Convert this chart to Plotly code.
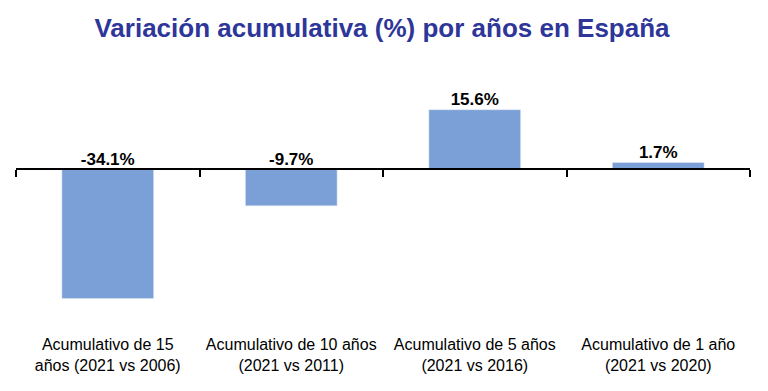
import plotly.graph_objects as go

categories = [
    "Acumulativo de 15<br>años (2021 vs 2006)",
    "Acumulativo de 10 años<br>(2021 vs 2011)",
    "Acumulativo de 5 años<br>(2021 vs 2016)",
    "Acumulativo de 1 año<br>(2021 vs 2020)",
]
values = [-34.1, -9.7, 15.6, 1.7]
value_labels = ["-34.1%", "-9.7%", "15.6%", "1.7%"]
title_text = "Variación acumulativa (%) por años en España"

FONT = "Arial, Liberation Sans, sans-serif"
BAR_COLOR = "#7b9fd7"
y_min, y_max = -40, 20
OFF = 8  # page body margin in the browser

xs = list(range(len(categories)))
boundaries = [i - 0.5 for i in range(len(categories) + 1)]

fig = go.Figure()
fig.add_trace(go.Bar(x=xs, y=values, marker_color=BAR_COLOR, width=0.5,
                     hoverinfo="skip"))
fig.add_trace(go.Scatter(x=xs, y=[max(v, 0) for v in values], mode="text",
                         text=[f"<b>{t}</b>" for t in value_labels],
                         textposition="top center",
                         textfont=dict(family=FONT, size=17, color="black"),
                         hoverinfo="skip", xaxis="x2"))

zero_pos = (0 - y_min) / (y_max - y_min)

fig.update_layout(
    width=768, height=391,
    margin=dict(l=16 - OFF, r=18 + OFF, t=93 - OFF, b=70 + OFF),
    paper_bgcolor="white", plot_bgcolor="white",
    showlegend=False,
    title=dict(text=f"<b>{title_text}</b>", x=(382 - OFF) / 768, xanchor="center",
               y=1 - (28 - OFF) / 391, yanchor="middle",
               font=dict(family=FONT, size=26, color="#2e3699")),
    xaxis=dict(range=[-0.5, 3.5], tickvals=xs, ticktext=categories,
               showline=False, ticks="", showgrid=False, zeroline=False,
               tickfont=dict(family=FONT, size=16, color="black"),
               ticklabelstandoff=12, anchor="y"),
    xaxis2=dict(range=[-0.5, 3.5], overlaying="x", anchor="free",
                position=zero_pos, side="bottom",
                tickvals=boundaries, showticklabels=False,
                ticks="outside", ticklen=7, tickwidth=1.5, tickcolor="black",
                showline=True, linecolor="black", linewidth=1.5,
                showgrid=False, zeroline=False),
    yaxis=dict(range=[y_min, y_max], visible=False, showgrid=False,
               zeroline=False),
)

fig.write_html("out.html")
